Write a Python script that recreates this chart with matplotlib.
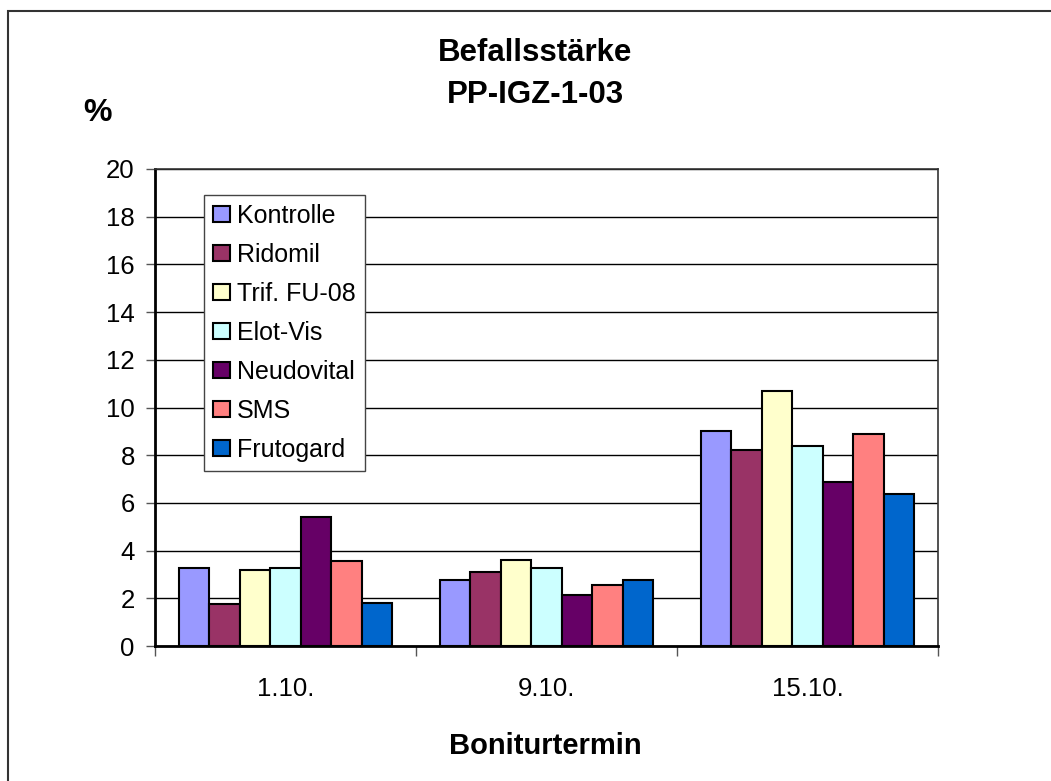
import numpy as np
import matplotlib.pyplot as plt
from matplotlib.patches import Rectangle
from matplotlib.ticker import FixedLocator, NullFormatter

plt.rcParams["font.family"] = ["Liberation Sans", "DejaVu Sans"]

dates = ["1.10.", "9.10.", "15.10."]
series = ["Kontrolle", "Ridomil", "Trif. FU-08", "Elot-Vis", "Neudovital", "SMS", "Frutogard"]
kontrolle = [3.25, 2.78, 9.03]
ridomil = [1.75, 3.12, 8.23]
trif = [3.18, 3.59, 10.7]
elot = [3.25, 3.27, 8.4]
neudovital = [5.42, 2.15, 6.88]
sms = [3.58, 2.56, 8.89]
frutogard = [1.82, 2.78, 6.39]
values = [kontrolle, ridomil, trif, elot, neudovital, sms, frutogard]
colors = ["#9999FF", "#993366", "#FFFFCC", "#CCFFFF", "#660066", "#FF8080", "#0066CC"]

fig = plt.figure(figsize=(10.51, 7.81), dpi=100)
# outer chart border (only top/left visible in the original)
fig.add_artist(Rectangle((8 / 1051, -0.1), 1.2, 1 - 11 / 781 + 0.1, transform=fig.transFigure,
                         fill=False, ec="#333333", lw=1.5))

ax = fig.add_axes([155 / 1051, 1 - 646 / 781, (938 - 155) / 1051, (646 - 169) / 781])
x = np.arange(len(dates))
w = 0.117
for i, (name, vals, c) in enumerate(zip(series, values, colors)):
    ax.bar(x + (i - 3) * w, vals, width=w, color=c, edgecolor="black", lw=1.5, label=name, zorder=3)

ax.set_xlim(-0.5, 2.5)
ax.set_ylim(0, 20)
ax.set_yticks(np.arange(0, 21, 2))
ax.yaxis.grid(True, color="black", lw=1.0, zorder=0)
ax.tick_params(axis="y", length=6.5, width=1.0, pad=8, labelsize=18.5, color="#555555")

ax.xaxis.set_major_locator(FixedLocator([-0.5, 0.5, 1.5, 2.5]))
ax.xaxis.set_major_formatter(NullFormatter())
ax.xaxis.set_minor_locator(FixedLocator(x))
ax.set_xticklabels(dates, minor=True)
ax.tick_params(axis="x", which="major", length=7, width=1.0, color="#555555")
ax.tick_params(axis="x", which="minor", length=0, pad=22, labelsize=18.5)

for s in ["left", "bottom"]:
    ax.spines[s].set_linewidth(2.0)
    ax.spines[s].set_color("black")
for s in ["top", "right"]:
    ax.spines[s].set_linewidth(1.2)
    ax.spines[s].set_color("#333333")

leg = ax.legend(loc="upper left", bbox_to_anchor=(204 / 1051, 1 - 195 / 781),
                bbox_transform=fig.transFigure, fontsize=18, frameon=True, fancybox=False,
                framealpha=1, edgecolor="#444444", handlelength=0.68, handleheight=0.62,
                handletextpad=0.3, labelspacing=0.6, borderpad=0.35, borderaxespad=0)
leg.get_frame().set_linewidth(1.0)
for h in leg.legend_handles:
    h.set_linewidth(1.5)

fig.text(535 / 1051, 1 - 53 / 781, "Befallsstärke", ha="center", va="center",
         fontsize=22.5, fontweight="bold")
fig.text(535 / 1051, 1 - 95 / 781, "PP-IGZ-1-03", ha="center", va="center",
         fontsize=22.5, fontweight="bold")
fig.text(98 / 1051, 1 - 113 / 781, "%", ha="center", va="center", fontsize=23, fontweight="bold")
fig.text(545 / 1051, 1 - 746 / 781, "Boniturtermin", ha="center", va="center",
         fontsize=21, fontweight="bold")

fig.savefig("out.png", dpi=100)
